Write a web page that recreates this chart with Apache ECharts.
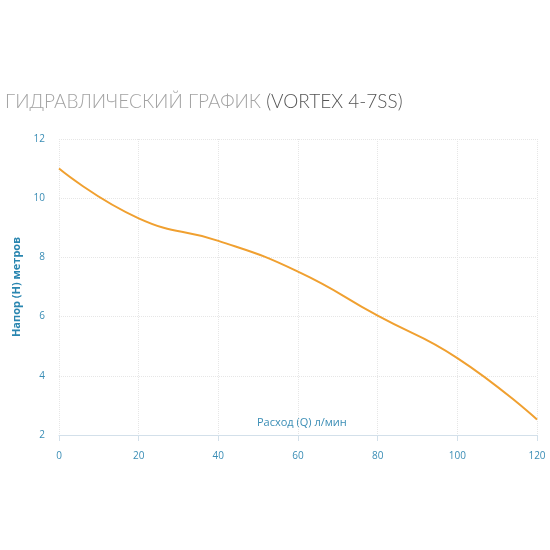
<!DOCTYPE html>
<html>
<head>
<meta charset="utf-8">
<script src="https://cdn.jsdelivr.net/npm/echarts@6/dist/echarts.min.js"></script>
<style>
  html, body { margin: 0; padding: 0; background: #fff; }
  #chart { width: 550px; height: 550px; }
</style>
</head>
<body>
<div id="chart"></div>
<script>
// расход, л/мин
var flow = [0, 20, 40, 60, 80, 100, 120];
// напор, м
var head = [11.0, 9.32, 8.56, 7.52, 6.03, 4.6, 2.52];

var points = flow.map(function (q, i) { return [q, head[i]]; });

var myChart = echarts.init(document.getElementById('chart'));
var option = {
  animation: false,
  title: {
    left: 0,
    top: 87,
    text: '{a|ГИДРАВЛИЧЕСКИЙ ГРАФИК }{b|(VORTEX 4-7SS)}',
    textStyle: {
      rich: {
        a: { fontFamily: 'Lato', fontSize: 19, fontWeight: 300, color: '#a3a3a3' },
        b: { fontFamily: 'Lato', fontSize: 19, fontWeight: 300, color: '#555' }
      }
    }
  },
  grid: { left: 59, right: 13, top: 139, bottom: 115 },
  graphic: [
    {
      type: 'text',
      left: 257,
      top: 417,
      style: { text: 'Расход (Q) л/мин', fill: '#3a8db5', fontSize: 11, fontFamily: 'Open Sans' }
    }
  ],
  xAxis: {
    type: 'value',
    min: 0,
    max: 120,
    interval: 20,
    axisLine: { show: true, lineStyle: { color: '#d3e0ea', width: 1 } },
    axisTick: { show: true, length: 6, lineStyle: { color: '#d3e0ea' } },
    axisLabel: { color: '#3a8db5', fontSize: 10, margin: 16, fontFamily: 'Open Sans' },
    splitLine: { show: true, lineStyle: { color: '#e6e6e6', type: 'dotted' } }
  },
  yAxis: {
    type: 'value',
    min: 2,
    max: 12,
    interval: 2,
    name: 'Напор (H) метров',
    nameLocation: 'middle',
    nameGap: 31,
    nameTextStyle: { color: '#2a86b0', fontSize: 11, fontWeight: 'bold', fontFamily: 'Open Sans' },
    axisLine: { show: false },
    axisTick: { show: false },
    axisLabel: { color: '#3a8db5', fontSize: 10, margin: 14, fontFamily: 'Open Sans' },
    splitLine: { show: true, lineStyle: { color: '#e6e6e6', type: 'dotted' } }
  },
  series: [
    {
      type: 'line',
      data: points,
      smooth: 0.5,
      showSymbol: false,
      lineStyle: { color: '#f0a030', width: 2 }
    }
  ]
};
myChart.setOption(option);
</script>
</body>
</html>
